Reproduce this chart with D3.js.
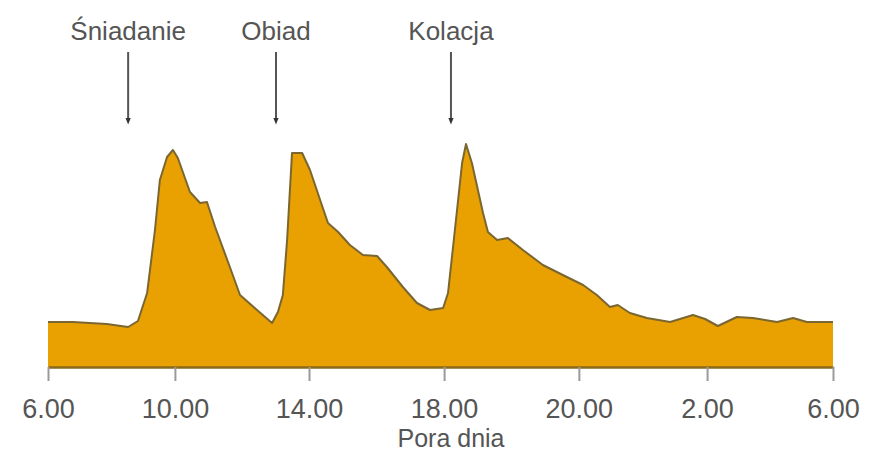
<!DOCTYPE html>
<html><head><meta charset="utf-8">
<script src="https://cdn.jsdelivr.net/npm/d3@7"></script>
<style>
html,body{margin:0;padding:0;background:#fff;}
svg{display:block;}
text{font-family:"Liberation Sans",Arial,Helvetica,sans-serif;}
</style></head>
<body>
<svg id="chart" width="871" height="455"></svg>
<script>
// hours since 6.00 (axis spans one day)
const hours = [0,0.76,1.80,2.45,2.75,3.03,3.27,3.42,3.64,3.82,3.97,4.34,4.65,4.86,5.11,5.56,5.87,6.39,6.85,7.03,7.18,7.31,7.46,7.77,8.01,8.32,8.56,8.87,9.23,9.63,10.06,10.36,10.85,11.28,11.68,12.08,12.23,12.44,12.66,12.78,12.96,13.30,13.45,13.73,14.06,14.52,15.13,15.74,16.36,16.78,17.18,17.42,17.79,18.31,19.02,19.72,20.09,20.48,21.06,21.55,22.29,22.78,23.20,24];
const values = [45,45,43,40,46,74,137,187,210,217,209,175,164,165,140,100,72,57,44,55,72,127,214,214,197,167,144,135,122,112,111,100,80,64,57,59,74,137,204,223,204,154,135,127,129,117,102,92,82,72,60,62,54,49,45,52,48,41,50,49,45,49,45,45];
const tickPositions = [0,3.88,7.98,12.11,16.23,20.15,24];
const tickLabels = ["6.00","10.00","14.00","18.00","20.00","2.00","6.00"];
const mealLabels = ["Śniadanie","Obiad","Kolacja"];
const mealHours = [2.45,6.97,12.32];
const xTitle = "Pora dnia";

const data = hours.map((h,i)=>({h, v: values[i]}));
const svg = d3.select("#chart");
const x = d3.scaleLinear().domain([0,24]).range([48,833]);
const y = d3.scaleLinear().domain([0,225]).range([367,142]);

const area = d3.area().x(d=>x(d.h)).y0(y(0)).y1(d=>y(d.v));
const line = d3.line().x(d=>x(d.h)).y(d=>y(d.v));

svg.append("path").datum(data).attr("d",area).attr("fill","#E9A102");
svg.append("path").datum(data).attr("d",line).attr("fill","none")
  .attr("stroke","#7a6630").attr("stroke-width",2).attr("stroke-linejoin","round");

// axis
const tickMap = new Map(tickPositions.map((p,i)=>[p,tickLabels[i]]));
const axis = d3.axisBottom(x).tickValues(tickPositions).tickFormat(d=>tickMap.get(d))
  .tickSizeInner(14).tickSizeOuter(0).tickPadding(18);
const g = svg.append("g").attr("transform",`translate(0,${y(0)})`).call(axis);
g.select(".domain").attr("stroke","#8a6a1a").attr("stroke-width",2.5);
g.selectAll(".tick line").attr("stroke","#9a9a9a").attr("stroke-width",2);
g.selectAll(".tick text").attr("fill","#555").attr("font-size",27)
  .attr("font-family","'Liberation Sans',Arial,sans-serif");

svg.append("text").attr("x",451).attr("y",447).attr("text-anchor","middle")
  .attr("font-size",25).attr("fill","#555").text(xTitle);

// meal annotations
svg.append("defs").append("marker").attr("id","ah").attr("viewBox","0 0 10 10")
  .attr("refX",5).attr("refY",5).attr("markerWidth",3.5).attr("markerHeight",3.5)
  .attr("orient","auto").append("path").attr("d","M0,1 L10,5 L0,9 Z").attr("fill","#333");

const ann = svg.selectAll(".meal").data(mealLabels).join("g").attr("class","meal");
ann.append("text").attr("x",(d,i)=>x(mealHours[i])).attr("y",40)
  .attr("text-anchor","middle").attr("font-size",26).attr("fill","#555").text(d=>d);
ann.append("line").attr("x1",(d,i)=>x(mealHours[i])).attr("x2",(d,i)=>x(mealHours[i]))
  .attr("y1",52).attr("y2",121).attr("stroke","#555").attr("stroke-width",2)
  .attr("marker-end","url(#ah)");
</script>
</body></html>
